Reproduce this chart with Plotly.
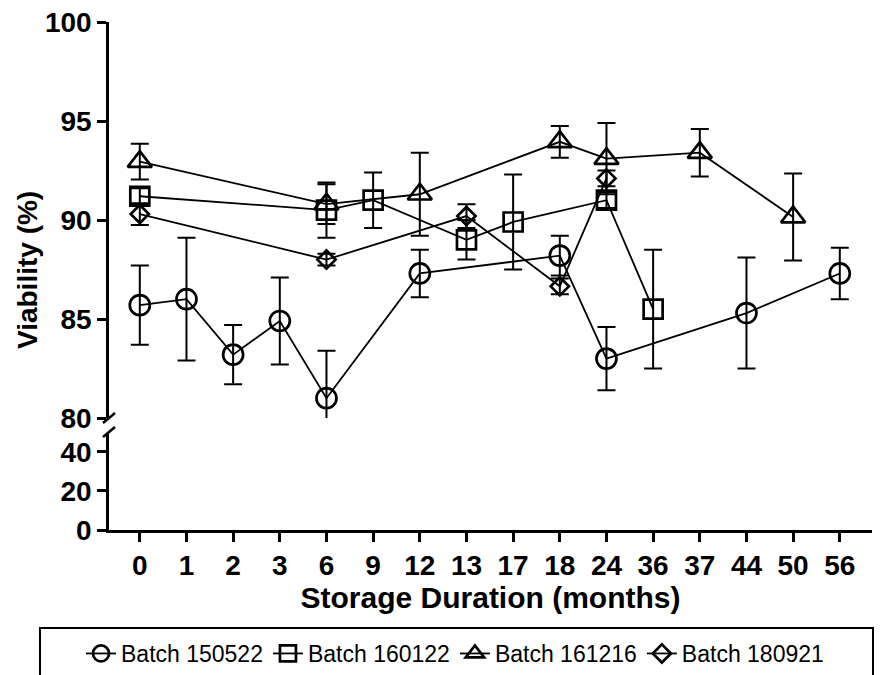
import plotly.graph_objects as go

# ---------------- data ----------------
categories = ["0", "1", "2", "3", "6", "9", "12", "13", "17", "18", "24", "36", "37", "44", "50", "56"]

b150522_x = ["0", "1", "2", "3", "6", "12", "18", "24", "44", "56"]
b150522_y = [85.7, 86.0, 83.2, 84.9, 81.0, 87.3, 88.2, 83.0, 85.3, 87.3]
b150522_e = [2.0, 3.1, 1.5, 2.2, 2.4, 1.2, 1.0, 1.6, 2.8, 1.3]

b160122_x = ["0", "6", "9", "13", "17", "24", "36"]
b160122_y = [91.2, 90.5, 91.0, 89.0, 89.9, 91.0, 85.5]
b160122_e = [0.4, 1.4, 1.4, 1.0, 2.4, 0.4, 3.0]

b161216_x = ["0", "6", "12", "18", "24", "37", "50"]
b161216_y = [92.95, 90.8, 91.3, 93.95, 93.1, 93.4, 90.15]
b161216_e = [0.9, 1.0, 2.1, 0.8, 1.8, 1.2, 2.2]

b180921_x = ["0", "6", "13", "18", "24"]
b180921_y = [90.3, 88.0, 90.2, 86.65, 92.1]
b180921_e = [0.55, 0.3, 0.6, 0.4, 0.4]

top_ticks = [80, 85, 90, 95, 100]
bottom_ticks = [0, 20, 40]

FONT = "Liberation Sans, Arial, sans-serif"

series = [
    ("Batch 150522", b150522_x, b150522_y, b150522_e, "circle-open", 20),
    ("Batch 160122", b160122_x, b160122_y, b160122_e, "square-open", 19),
    ("Batch 161216", b161216_x, b161216_y, b161216_e, "triangle-up-open", 21),
    ("Batch 180921", b180921_x, b180921_y, b180921_e, "diamond-open", 14),
]

fig = go.Figure()
for name, xs, ys, es, sym, size in series:
    fig.add_trace(go.Scatter(
        x=xs, y=ys, name=name, mode="lines+markers",
        xaxis="x", yaxis="y",
        line=dict(color="black", width=1.8),
        marker=dict(symbol=sym, size=size, color="black", line=dict(color="black", width=2.7)),
        error_y=dict(type="data", array=es, visible=True, color="black", thickness=2, width=9),
        cliponaxis=True,
    ))

# empty trace so that the lower (broken) axis segment exists
fig.add_trace(go.Scatter(x=[], y=[], xaxis="x", yaxis="y2", showlegend=False, hoverinfo="skip"))

# page body offset (default 8px margin) compensation
OFF = 8
W, H = 883 - OFF, 675 - OFF
plot_left, plot_right, plot_top, plot_bottom = 109 - OFF, 872 - OFF, 22 - OFF, 530 - OFF
ml, mr, mt, mb = plot_left, W - plot_right, plot_top, H - plot_bottom
plot_w = plot_right - plot_left
plot_h = plot_bottom - plot_top


def px_x(p):  # reference pixel -> paper
    return (p - OFF - plot_left) / plot_w


def px_y(p):
    return (plot_bottom - (p - OFF)) / plot_h


top_dom0 = px_y(418)
bot_dom1 = px_y(433)

axis_common = dict(
    showline=True, linecolor="black", linewidth=2.5,
    ticks="outside", ticklen=9, tickwidth=2.5, tickcolor="black",
    showgrid=False, zeroline=False, ticklabeloverflow="allow",
    tickfont=dict(family=FONT, size=28, color="black", weight="bold"),
)

fig.update_layout(
    width=W, height=H,
    margin=dict(l=ml, r=mr, t=mt, b=mb, autoexpand=False),
    paper_bgcolor="white", plot_bgcolor="white",
    font=dict(family=FONT, color="black"),
    xaxis=dict(
        type="category", categoryorder="array", categoryarray=categories,
        range=[-0.66, 15.69], anchor="y2",
        title=dict(text="Storage Duration (months)",
                   font=dict(family=FONT, size=30, color="black", weight="bold"),
                   standoff=6),
        **axis_common,
    ),
    yaxis=dict(domain=[top_dom0, 1], range=[80, 100], tickvals=top_ticks,
               anchor="x", ticklabelstandoff=0, **axis_common),
    yaxis2=dict(domain=[0, bot_dom1], range=[0, 49.7], tickvals=bottom_ticks,
                anchor="x", ticklabelstandoff=0, **axis_common),
    showlegend=True,
    legend=dict(
        orientation="h", x=px_x(81), xanchor="left",
        y=px_y(632), yanchor="top",
        font=dict(family=FONT, size=23, color="black"),
        bgcolor="rgba(0,0,0,0)", borderwidth=0,
        itemclick=False,
    ),
)

# y-axis title spanning the whole broken axis
fig.add_annotation(
    text="<b>Viability (%)</b>", textangle=-90,
    xref="paper", yref="paper", x=px_x(27), y=px_y(270),
    xanchor="center", yanchor="middle", showarrow=False,
    font=dict(family=FONT, size=28, color="black"),
)

# axis-break marks
for y0 in (423, 437):
    fig.add_shape(type="line", xref="paper", yref="paper",
                  x0=px_x(103), y0=px_y(y0), x1=px_x(115), y1=px_y(y0 - 10),
                  line=dict(color="black", width=2.5))

# legend frame
fig.add_shape(type="rect", xref="paper", yref="paper",
              x0=px_x(40), y0=px_y(628), x1=px_x(873), y1=px_y(690),
              line=dict(color="black", width=2))

fig.write_html("out.html")
